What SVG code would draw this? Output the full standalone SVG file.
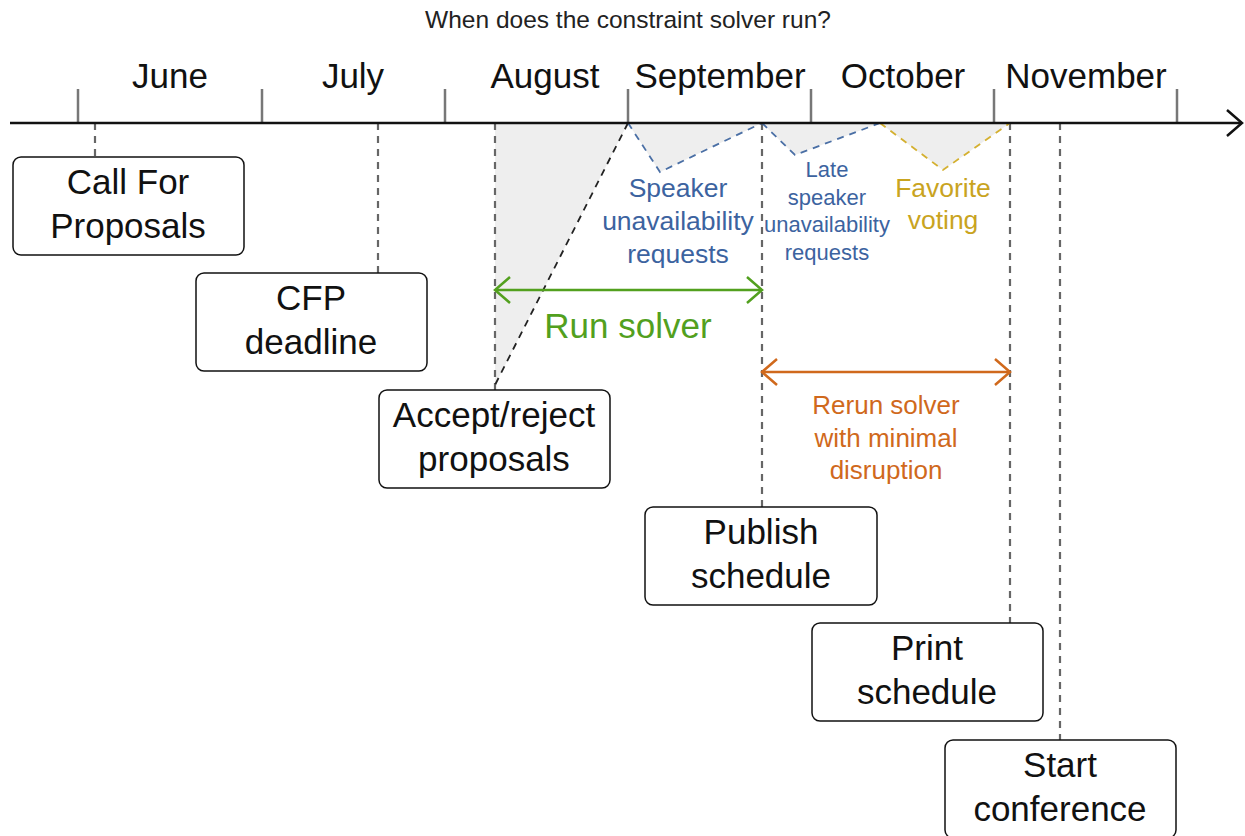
<svg xmlns="http://www.w3.org/2000/svg" width="1245" height="836" viewBox="0 0 1245 836">
<defs>
<style>
text{font-family:"Liberation Sans",Arial,sans-serif;text-anchor:middle}
.title{font-size:24.5px;fill:#222}
.month{font-size:35px;fill:#111}
.tick{stroke:#777;stroke-width:2.5}
.guide{stroke:#666;stroke-width:2.2;stroke-dasharray:7,6;fill:none}
.box rect{fill:#fff;stroke:#111;stroke-width:1.5}
.box text{font-size:35px;fill:#111}
.blue{fill:#3c639f}
.gold{fill:#c9a41f}
.green{fill:#52a01e}
.orange{fill:#d0691c}
</style>
<marker id="ah" viewBox="0 0 20 30" refX="17" refY="15" markerWidth="20" markerHeight="30" markerUnits="userSpaceOnUse" orient="auto-start-reverse">
<path d="M2,2 L17,15 L2,28" fill="none" stroke="context-stroke" stroke-width="2.5"/>
</marker>
</defs>
<rect width="1245" height="836" fill="#fff"/>
<text class="title" x="628" y="28">When does the constraint solver run?</text>

<g id="axis">
<line class="tick" x1="78" y1="89" x2="78" y2="123"/>
<line class="tick" x1="262" y1="89" x2="262" y2="123"/>
<line class="tick" x1="445" y1="89" x2="445" y2="123"/>
<line class="tick" x1="628" y1="89" x2="628" y2="123"/>
<line class="tick" x1="811" y1="89" x2="811" y2="123"/>
<line class="tick" x1="994" y1="89" x2="994" y2="123"/>
<line class="tick" x1="1177" y1="89" x2="1177" y2="123"/>
<text class="month" x="170" y="88">June</text>
<text class="month" x="353" y="88">July</text>
<text class="month" x="545" y="88">August</text>
<text class="month" x="720" y="88">September</text>
<text class="month" x="903" y="88">October</text>
<text class="month" x="1086" y="88">November</text>
</g>

<g id="shading">
<polygon points="495,123 628,123 495,385" fill="#eeeeee"/>
<polygon points="628,123 660,172 762,123" fill="#eeeeee"/>
<polygon points="762,123 795,155 880,123" fill="#eeeeee"/>
<polygon points="880,123 943,170 1010,123" fill="#eeeeee"/>
</g>

<g id="connectors">
<line class="guide" x1="95" y1="123" x2="95" y2="157"/>
<line class="guide" x1="378" y1="123" x2="378" y2="273"/>
<line class="guide" x1="495" y1="123" x2="495" y2="390"/>
<line class="guide" x1="762" y1="123" x2="762" y2="507"/>
<line class="guide" x1="1010" y1="123" x2="1010" y2="623"/>
<line class="guide" x1="1060" y1="123" x2="1060" y2="740"/>
<line x1="628" y1="123" x2="495" y2="385" stroke="#222" stroke-width="1.8" stroke-dasharray="7,6"/>
<polyline points="628,123 660,172 762,123" fill="none" stroke="#4a6fa5" stroke-width="1.8" stroke-dasharray="7,6"/>
<polyline points="762,123 795,155 880,123" fill="none" stroke="#4a6fa5" stroke-width="1.8" stroke-dasharray="7,6"/>
<polyline points="880,123 943,170 1010,123" fill="none" stroke="#d4b030" stroke-width="1.8" stroke-dasharray="7,6"/>
<line x1="10" y1="123" x2="1242" y2="123" stroke="#111" stroke-width="2.5" marker-end="url(#ah)"/>
<line x1="495" y1="290" x2="762" y2="290" stroke="#52a01e" stroke-width="2.5" marker-start="url(#ah)" marker-end="url(#ah)"/>
<line x1="762" y1="372" x2="1010" y2="372" stroke="#d0691c" stroke-width="2.5" marker-start="url(#ah)" marker-end="url(#ah)"/>
</g>

<g id="labels">
<text class="blue" font-size="26.5" x="678" y="197">Speaker</text>
<text class="blue" font-size="26.5" x="678" y="230">unavailability</text>
<text class="blue" font-size="26.5" x="678" y="263">requests</text>
<text class="blue" font-size="22" x="827" y="177">Late</text>
<text class="blue" font-size="22" x="827" y="205">speaker</text>
<text class="blue" font-size="22" x="827" y="232">unavailability</text>
<text class="blue" font-size="22" x="827" y="260">requests</text>
<text class="gold" font-size="26.5" x="943" y="197">Favorite</text>
<text class="gold" font-size="26.5" x="943" y="229">voting</text>
<text class="green" font-size="35" x="628" y="338">Run solver</text>
<text class="orange" font-size="26" x="886" y="414">Rerun solver</text>
<text class="orange" font-size="26" x="886" y="447">with minimal</text>
<text class="orange" font-size="26" x="886" y="479">disruption</text>
</g>

<g id="cfp" class="box"><rect x="13" y="157" width="231" height="98" rx="8"/><text x="128" y="194">Call For</text><text x="128" y="238">Proposals</text></g>
<g id="cfp-deadline" class="box"><rect x="196" y="273" width="231" height="98" rx="8"/><text x="311" y="310">CFP</text><text x="311" y="354">deadline</text></g>
<g id="accept" class="box"><rect x="379" y="390" width="231" height="98" rx="8"/><text x="494" y="427">Accept/reject</text><text x="494" y="471">proposals</text></g>
<g id="publish" class="box"><rect x="645" y="507" width="232" height="98" rx="8"/><text x="761" y="544">Publish</text><text x="761" y="588">schedule</text></g>
<g id="print" class="box"><rect x="812" y="623" width="231" height="98" rx="8"/><text x="927" y="660">Print</text><text x="927" y="704">schedule</text></g>
<g id="start" class="box"><rect x="945" y="740" width="231" height="98" rx="8"/><text x="1060" y="777">Start</text><text x="1060" y="821">conference</text></g>
</svg>
